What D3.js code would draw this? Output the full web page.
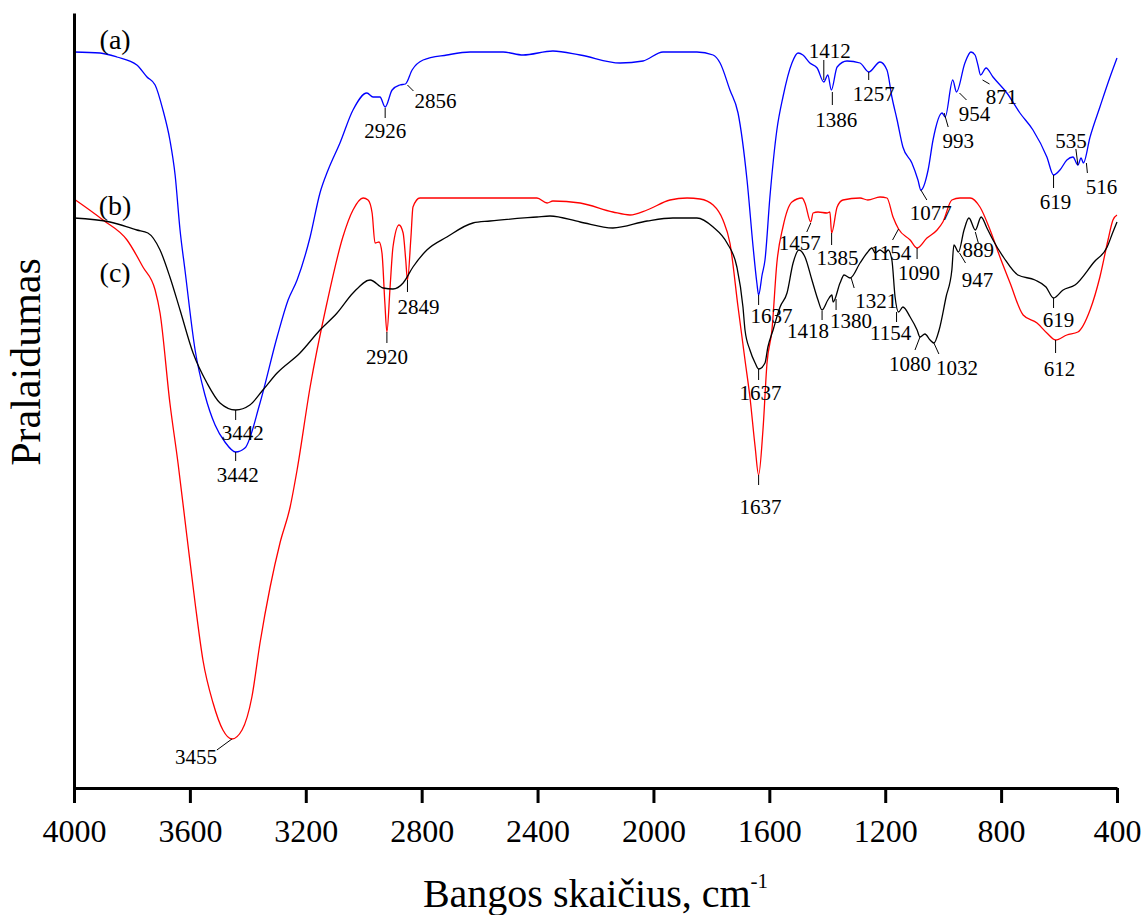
<!DOCTYPE html>
<html>
<head>
<meta charset="utf-8">
<script src="https://cdn.jsdelivr.net/npm/d3@7"></script>
<style>
  html, body { margin: 0; padding: 0; background: #fff; }
  svg { display: block; }
  svg text { font-family: "Liberation Serif", "Times New Roman", "DejaVu Serif", serif; }
</style>
</head>
<body>
<svg id="chart" width="1146" height="915"></svg>
<script>
// FTIR spectra: [wavenumber (cm-1), transmittance (a.u.)]
const spectrumA = [
  [4000,73.6],[3910,73.5],[3852,73.1],[3783,72.3],[3748,71.1],[3720,70.3],[3693,67.8],[3669,64.8],
  [3651,61.3],[3634,55.8],[3617,51.8],[3582,43.8],[3548,39.3],[3513,36.3],[3479,34.6],[3442,33.6],
  [3410,34.0],[3358,38.5],[3299,45.1],[3261,48.8],[3230,50.8],[3185,55.1],[3151,59.5],[3123,61.8],
  [3082,64.5],[3037,67.8],[2989,69.5],[2968,69.1],[2944,69.1],[2926,68.1],[2902,69.8],[2875,70.3],
  [2856,70.4],[2833,71.8],[2795,72.8],[2713,73.3],[2633,73.6],[2519,73.6],[2450,73.3],[2347,73.7],
  [2253,73.3],[2115,72.5],[2036,72.7],[1967,73.6],[1850,73.6],[1794,73.3],[1770,72.5],[1736,69.8],
  [1708,67.5],[1677,60.8],[1656,54.1],[1643,50.5],[1637,49.3],[1625,51.3],[1615,52.8],[1598,59.1],
  [1574,65.8],[1553,69.1],[1522,72.5],[1501,73.5],[1484,73.3],[1460,72.5],[1435,72.0],[1412,70.6],
  [1398,71.3],[1386,69.8],[1366,72.1],[1332,72.7],[1287,72.5],[1257,71.6],[1218,72.6],[1194,71.8],
  [1177,69.1],[1159,66.8],[1139,64.1],[1108,62.5],[1087,60.8],[1077,59.8],[1052,61.8],[1035,64.8],
  [1004,67.5],[993,67.1],[967,70.8],[954,69.6],[925,72.5],[904,73.6],[890,73.3],[880,72.3],
  [871,71.3],[852,72.0],[828,71.1],[780,69.5],[735,67.5],[690,65.8],[642,63.1],[619,61.3],
  [597,61.8],[573,62.8],[552,63.1],[535,62.3],[524,63.0],[516,62.5],[493,65.1],[459,68.1],
  [424,71.1],[400,73.0]
];

const spectrumB = [
  [4000,58.9],[3900,56.8],[3817,54.8],[3762,52.1],[3720,49.8],[3703,47.5],[3669,38.5],[3641,32.5],
  [3610,25.1],[3582,18.5],[3555,12.8],[3520,8.5],[3486,5.8],[3455,4.9],[3420,5.8],[3386,9.1],
  [3358,14.5],[3323,20.1],[3289,24.5],[3254,28.1],[3230,31.8],[3185,40.1],[3127,48.5],[3072,55.1],
  [3037,57.8],[3002,59.0],[2985,58.8],[2971,57.5],[2961,54.5],[2947,54.6],[2937,53.5],[2927,48.5],
  [2920,45.6],[2909,50.1],[2899,54.1],[2878,56.3],[2864,55.5],[2855,52.8],[2849,50.8],[2837,55.1],
  [2830,58.1],[2806,59.0],[2600,59.0],[2402,59.0],[2367,58.5],[2347,58.7],[2253,58.5],[2140,57.6],
  [2081,57.3],[2022,57.8],[1943,58.8],[1884,59.0],[1839,58.9],[1794,58.3],[1760,56.8],[1736,54.5],
  [1708,48.1],[1684,42.8],[1667,39.1],[1649,34.1],[1637,31.3],[1622,35.8],[1608,42.5],[1591,45.8],
  [1574,52.5],[1553,56.1],[1522,58.6],[1487,59.0],[1477,58.5],[1457,56.6],[1449,57.5],[1432,57.6],
  [1401,57.5],[1391,57.6],[1385,55.5],[1366,58.1],[1346,58.8],[1287,59.0],[1260,58.8],[1218,59.1],
  [1194,59.0],[1173,57.1],[1154,55.9],[1114,54.8],[1090,54.0],[1056,55.0],[1021,55.8],[1001,56.6],
  [970,58.8],[942,59.0],[907,59.0],[873,58.1],[838,55.8],[804,53.1],[769,50.5],[724,47.3],
  [676,46.5],[642,45.5],[612,44.8],[573,45.3],[535,45.6],[493,47.8],[459,51.1],[431,54.8],
  [414,56.8],[400,57.3]
];

const spectrumC = [
  [4000,57.0],[3876,56.6],[3783,55.8],[3745,55.5],[3703,53.8],[3669,51.1],[3634,47.8],[3589,43.5],
  [3541,40.5],[3496,38.5],[3442,37.8],[3393,38.3],[3348,39.8],[3299,41.5],[3220,43.5],[3151,45.8],
  [3092,47.5],[3037,49.5],[2978,50.8],[2933,50.0],[2899,49.9],[2864,50.5],[2830,52.1],[2782,53.8],
  [2713,55.1],[2623,56.5],[2564,56.7],[2402,57.1],[2357,57.2],[2253,56.6],[2140,56.0],[2022,56.7],
  [1933,57.0],[1850,57.0],[1794,56.1],[1746,54.5],[1712,52.1],[1691,48.1],[1684,45.8],[1667,43.8],
  [1649,42.5],[1637,41.9],[1615,42.5],[1605,44.1],[1587,45.8],[1563,48.1],[1539,49.5],[1518,52.5],
  [1498,53.8],[1477,53.1],[1453,50.8],[1432,48.8],[1418,47.8],[1398,48.8],[1384,49.3],[1380,48.6],
  [1356,50.5],[1342,51.3],[1321,51.0],[1287,52.5],[1263,53.5],[1246,54.0],[1235,53.5],[1218,53.8],
  [1201,53.5],[1190,53.8],[1177,52.8],[1166,49.1],[1154,47.6],[1139,48.1],[1114,47.1],[1090,45.8],
  [1080,45.1],[1063,45.4],[1045,44.8],[1032,44.5],[1014,45.8],[990,49.1],[970,51.8],[963,54.3],
  [947,53.6],[928,55.8],[911,57.0],[889,55.8],[869,57.1],[849,56.0],[828,54.8],[790,53.0],
  [742,51.3],[683,50.8],[645,50.1],[619,49.0],[586,49.8],[545,50.3],[479,52.6],[434,54.1],
  [414,55.6],[400,56.6]
];

// Labelled band positions (cm-1) for each spectrum
const peaksA = [3442, 2926, 2856, 1637, 1412, 1386, 1257, 1077, 993, 954, 871, 619, 535, 516];
const peaksB = [3455, 2920, 2849, 1637, 1457, 1385, 1154, 1090, 612];
const peaksC = [3442, 1637, 1418, 1380, 1321, 1154, 1080, 1032, 947, 889, 619];

const xTicks = [4000, 3600, 3200, 2800, 2400, 2000, 1600, 1200, 800, 400];
const seriesNames = ["(a)", "(b)", "(c)"];
const seriesColors = ["#0000ff", "#ff0000", "#000000"];

// Leader line [x1,y1,x2,y2] and text centre [dx,dy], in px relative to the band point
const layoutA = {
  3442: { lead: [0, 0, 0, 9],   text: [2, 23] },
  2926: { lead: [0, 1, 0, 11],  text: [0, 24] },
  2856: { lead: [2, 1, 8, 7],   text: [30, 17] },
  1637: { lead: [0, 0, 0, 10],  text: [13, 21] },
  1412: { lead: [0, -2, 0, -22], text: [6, -31] },
  1386: { lead: [1, 2, 1, 15],  text: [5, 30] },
  1257: { lead: [0, 0, 0, 8],   text: [5, 22] },
  1077: { lead: [0, 0, 6, 10],  text: [10, 23] },
  993:  { lead: [-1, -4, 3, 10], text: [13, 24] },
  954:  { lead: [3, 1, 10, 8],  text: [18, 22] },
  871:  { lead: [2, 5, 9, 9],   text: [21, 22] },
  619:  { lead: [0, 0, 0, 13],  text: [2, 27] },
  535:  { lead: [0, 0, -2, -16], text: [-7, -24] },
  516:  { lead: [3, 0, 4, 10],  text: [18, 24] }
};
const layoutB = {
  3455: { lead: [0, 0, -15, 11], text: [-36, 18] },
  2920: { lead: [0, 0, 0, 11],  text: [0, 25] },
  2849: { lead: [0, 0, 0, 12],  text: [11, 27] },
  1637: { lead: [0, 0, 0, 10],  text: [2, 32] },
  1457: { lead: [0, 1, -4, 10], text: [-11, 21] },
  1385: { lead: [0, 0, 0, 12],  text: [6, 25] },
  1154: { lead: [0, 0, -6, 11], text: [-8, 24] },
  1090: { lead: [0, 0, 0, 11],  text: [2, 25] },
  612:  { lead: [0, 0, 0, 13],  text: [4, 29] }
};
const layoutC = {
  3442: { lead: [0, 0, 0, 10],  text: [7, 23] },
  1637: { lead: [0, 0, 0, 11],  text: [2, 24] },
  1418: { lead: [0, 1, 0, 10],  text: [-14, 21] },
  1380: { lead: [3, -3, 3, 8],  text: [18, 19] },
  1321: { lead: [1, 0, 4, 10],  text: [26, 23] },
  1154: { lead: [-2, 0, -2, 10], text: [-8, 21] },
  1080: { lead: [0, 0, -5, 13], text: [-10, 27] },
  1032: { lead: [0, 0, 5, 11],  text: [23, 25] },
  947:  { lead: [1, 1, 7, 11],  text: [19, 28] },
  889:  { lead: [0, 2, 3, 13],  text: [3, 20] },
  619:  { lead: [0, 0, 0, 10],  text: [5, 22] }
};
// Series tag positions: [wavenumber, transmittance]
const tagPos = [[3858, 74.9], [3858, 58.3], [3858, 51.6]];

const SERIF = '"Liberation Serif", "Times New Roman", "DejaVu Serif", serif';

const svg = d3.select("#chart");
svg.append("rect").attr("width", 1146).attr("height", 915).attr("fill", "#fff");

const x = d3.scaleLinear().domain([4000, 400]).range([74, 1117]);
const y = d3.scaleLinear().domain([0, 77.5]).range([788, 13]);

// Spectra
const line = d3.line()
  .x(d => x(d[0]))
  .y(d => y(d[1]))
  .curve(d3.curveMonotoneX);

const spectra = [spectrumA, spectrumB, spectrumC];
spectra.forEach((s, i) => {
  svg.append("path")
    .datum(s)
    .attr("d", line)
    .attr("fill", "none")
    .attr("stroke", seriesColors[i])
    .attr("stroke-width", 1.3)
    .attr("stroke-linejoin", "round");
});

// Transmittance at a given wavenumber (linear between samples)
function valueAt(s, wn) {
  for (let i = 0; i < s.length - 1; i++) {
    const a = s[i], b = s[i + 1];
    if (wn <= a[0] && wn >= b[0]) {
      const t = (a[0] - wn) / (a[0] - b[0] || 1);
      return a[1] + t * (b[1] - a[1]);
    }
  }
  return s[s.length - 1][1];
}

// Band annotations
const peakSets = [[spectrumA, peaksA, layoutA], [spectrumB, peaksB, layoutB], [spectrumC, peaksC, layoutC]];
const annot = svg.append("g");
peakSets.forEach(([s, peaks, layout]) => {
  peaks.forEach(wn => {
    const px = x(wn), py = y(valueAt(s, wn));
    const L = layout[wn];
    annot.append("line")
      .attr("x1", px + L.lead[0]).attr("y1", py + L.lead[1])
      .attr("x2", px + L.lead[2]).attr("y2", py + L.lead[3])
      .attr("stroke", "#000").attr("stroke-width", 1);
    annot.append("text")
      .attr("x", px + L.text[0])
      .attr("y", py + L.text[1] + 7)
      .attr("text-anchor", "middle")
      .style("font-family", SERIF)
      .style("font-size", "21px")
      .attr("fill", "#000")
      .text(wn);
  });
});

// Series tags
tagPos.forEach((p, i) => {
  svg.append("text")
    .attr("x", x(p[0]))
    .attr("y", y(p[1]))
    .attr("dominant-baseline", "central")
    .attr("text-anchor", "middle")
    .style("font-family", SERIF)
    .style("font-size", "28px")
    .attr("fill", "#000")
    .text(seriesNames[i]);
});

// Axes
const xAxis = svg.append("g")
  .attr("transform", "translate(0,788)")
  .call(d3.axisBottom(x).tickValues(xTicks).tickFormat(d3.format("d")).tickSize(15).tickSizeOuter(0).tickPadding(16));
xAxis.attr("font-family", null).attr("font-size", null);
xAxis.select(".domain").attr("stroke-width", 3).attr("stroke", "#000");
xAxis.selectAll(".tick line").attr("stroke-width", 3).attr("stroke", "#000");
xAxis.selectAll(".tick text")
  .style("font-family", SERIF)
  .style("font-size", "32px")
  .attr("fill", "#000");

const yAxis = svg.append("g")
  .attr("transform", "translate(74,0)")
  .call(d3.axisLeft(y).tickValues([]).tickSizeOuter(0));
yAxis.select(".domain").attr("stroke-width", 3).attr("stroke", "#000");

// Axis titles
const xt = svg.append("text")
  .attr("x", (x.range()[0] + x.range()[1]) / 2)
  .attr("y", 907)
  .attr("text-anchor", "middle")
  .style("font-family", SERIF)
  .style("font-size", "40px")
  .attr("fill", "#000");
xt.append("tspan").text("Bangos skaičius, cm");
xt.append("tspan").style("font-size", "21px").attr("dy", -19).text("-1");

svg.append("text")
  .attr("transform", "translate(40,362) rotate(-90)")
  .attr("text-anchor", "middle")
  .style("font-family", SERIF)
  .style("font-size", "42px")
  .attr("fill", "#000")
  .text("Pralaidumas");
</script>
</body>
</html>
